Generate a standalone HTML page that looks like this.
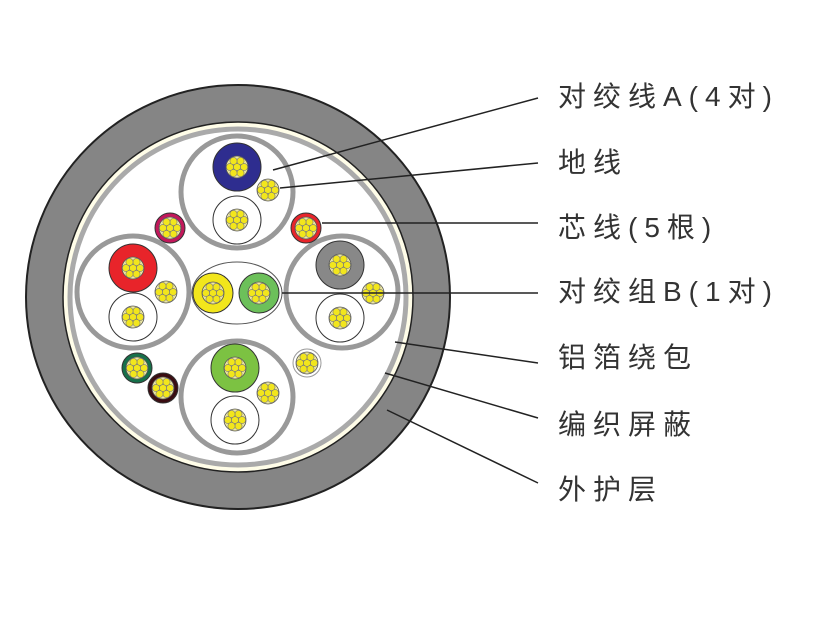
<!DOCTYPE html>
<html><head><meta charset="utf-8"><style>
body{margin:0;background:#fff;width:826px;height:620px;overflow:hidden;position:relative;font-family:"Liberation Sans","Noto Sans CJK SC",sans-serif}
.t{position:absolute;left:558px;font-size:28px;color:#333;letter-spacing:7px;line-height:34px;white-space:nowrap}
</style></head><body>
<svg width="826" height="620" style="position:absolute;left:0;top:0">
<defs>
<g id="s">
<circle r="11" fill="#eee8a0" stroke="#555" stroke-width="0.8"/>
<circle r="3.6" fill="#f2e61c" stroke="#777" stroke-width="0.6"/>
<circle cx="7" r="3.6" fill="#f2e61c" stroke="#777" stroke-width="0.6"/>
<circle cx="-7" r="3.6" fill="#f2e61c" stroke="#777" stroke-width="0.6"/>
<circle cx="3.5" cy="6" r="3.6" fill="#f2e61c" stroke="#777" stroke-width="0.6"/>
<circle cx="-3.5" cy="6" r="3.6" fill="#f2e61c" stroke="#777" stroke-width="0.6"/>
<circle cx="3.5" cy="-6" r="3.6" fill="#f2e61c" stroke="#777" stroke-width="0.6"/>
<circle cx="-3.5" cy="-6" r="3.6" fill="#f2e61c" stroke="#777" stroke-width="0.6"/>
</g>
</defs>
<circle cx="238" cy="297" r="212" fill="#858585" stroke="#222" stroke-width="2"/>
<circle cx="238" cy="297" r="175" fill="#fffde8" stroke="#222" stroke-width="1.5"/>
<circle cx="238" cy="297" r="168" fill="#fff" stroke="#aaa" stroke-width="5"/>
<g stroke="#999" stroke-width="5" fill="#fff">
<circle cx="237" cy="192" r="56"/><circle cx="133" cy="292" r="56"/>
<circle cx="342" cy="292" r="56"/><circle cx="237" cy="397" r="56"/>
</g>
<g stroke="#333" stroke-width="1">
<circle cx="237" cy="167" r="24" fill="#2e2d8f"/><circle cx="237" cy="220" r="24" fill="#fff"/>
<circle cx="133" cy="268" r="24" fill="#e8242a"/><circle cx="133" cy="317" r="24" fill="#fff"/>
<circle cx="340" cy="265" r="24" fill="#888"/><circle cx="340" cy="318" r="24" fill="#fff"/>
<circle cx="235" cy="368" r="24" fill="#7cc242"/><circle cx="235" cy="420" r="24" fill="#fff"/>
<ellipse cx="237" cy="293" rx="45" ry="31" fill="#fff" stroke="#555"/>
<circle cx="213" cy="293" r="20" fill="#f2e61c"/><circle cx="259" cy="293" r="20" fill="#6cc05a"/>
<circle cx="170" cy="228" r="15" fill="#c2185b"/><circle cx="306" cy="228" r="15" fill="#e8242a"/>
<circle cx="307" cy="363" r="14" fill="#fff" stroke="#999"/>
<circle cx="137" cy="368" r="15" fill="#17704a"/><circle cx="163" cy="388" r="15" fill="#3a0d12"/>
</g>
<g>
<use href="#s" x="237" y="167"/><use href="#s" x="237" y="220"/><use href="#s" x="268" y="190"/>
<use href="#s" x="133" y="268"/><use href="#s" x="133" y="317"/><use href="#s" x="166" y="292"/>
<use href="#s" x="340" y="265"/><use href="#s" x="340" y="318"/><use href="#s" x="373" y="293"/>
<use href="#s" x="235" y="368"/><use href="#s" x="235" y="420"/><use href="#s" x="268" y="393"/>
<use href="#s" x="213" y="293"/><use href="#s" x="259" y="293"/>
<use href="#s" x="170" y="228"/><use href="#s" x="306" y="228"/><use href="#s" x="307" y="363"/>
<use href="#s" x="137" y="368"/><use href="#s" x="163" y="388"/>
</g>
<g stroke="#222" stroke-width="1.5">
<line x1="273" y1="170" x2="538" y2="98"/>
<line x1="280" y1="188" x2="538" y2="163"/>
<line x1="322" y1="223" x2="538" y2="223"/>
<line x1="282" y1="293" x2="538" y2="293"/>
<line x1="395" y1="342" x2="538" y2="363"/>
<line x1="385" y1="373" x2="538" y2="418"/>
<line x1="387" y1="410" x2="538" y2="483"/>
</g>
</svg>
<div class="t" style="top:80px">对绞线A(4对)</div>
<div class="t" style="top:146px">地线</div>
<div class="t" style="top:211px">芯线(5根)</div>
<div class="t" style="top:275px">对绞组B(1对)</div>
<div class="t" style="top:341px">铝箔绕包</div>
<div class="t" style="top:408px">编织屏蔽</div>
<div class="t" style="top:473px">外护层</div>
</body></html>
